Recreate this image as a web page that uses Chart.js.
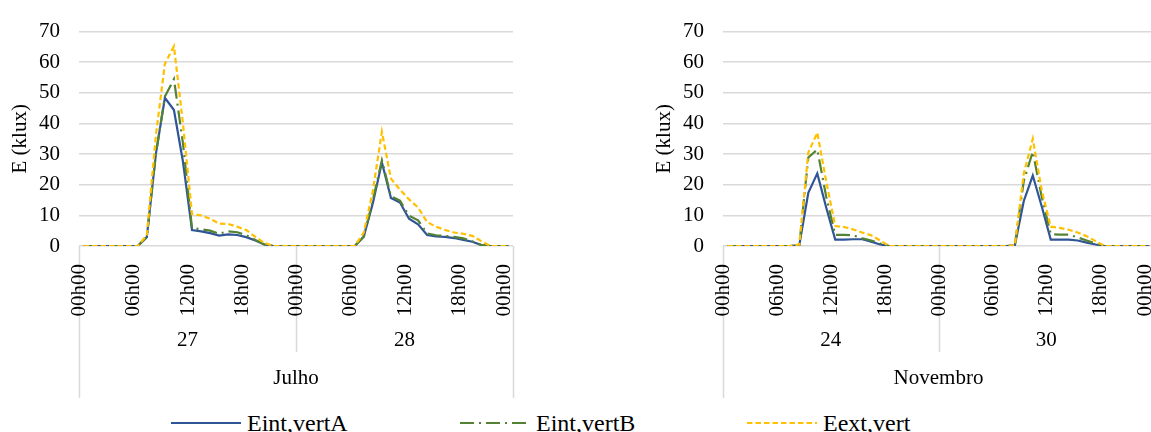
<!DOCTYPE html>
<html lang="pt">
<head>
<meta charset="utf-8">
<title>Iluminância vertical</title>
<script src="https://cdn.jsdelivr.net/npm/chart.js@4.4.1/dist/chart.umd.min.js"></script>
<style>
  html, body { margin: 0; padding: 0; background: #fff; overflow: hidden; }
  #figura { position: relative; width: 1151px; height: 432px; overflow: hidden; font-family: "Liberation Serif", "Times New Roman", serif; }
  #cJulho { position: absolute; left: 0; top: 0; }
  #cNovembro { position: absolute; left: 644px; top: 0; }
  .leg { position: absolute; top: 411px; height: 24px; display: flex; align-items: center; font-size: 24px; line-height: 24px; color: #000; white-space: nowrap; }
  .leg svg { margin-right: 6px; }
</style>
</head>
<body>
<div id="figura">
  <canvas id="cJulho" width="560" height="405"></canvas>
  <canvas id="cNovembro" width="540" height="405"></canvas>
  <div class="leg" style="left:171px"><svg width="70" height="24"><line x1="0" y1="12" x2="70" y2="12" stroke="#2f5597" stroke-width="2.2"/></svg>Eint,vertA</div>
  <div class="leg" style="left:460px"><svg width="70" height="24"><line x1="0" y1="12" x2="70" y2="12" stroke="#548235" stroke-width="2.2" stroke-dasharray="14 5 2 5"/></svg>Eint,vertB</div>
  <div class="leg" style="left:747px"><svg width="70" height="24"><line x1="0" y1="12" x2="70" y2="12" stroke="#ffc000" stroke-width="2.2" stroke-dasharray="5.5 3"/></svg>Eext,vert</div>
</div>
<script>
// Horas de cada dia (categorias do eixo horizontal)
const horas = ['00h00','01h00','02h00','03h00','04h00','05h00','06h00','07h00',
               '08h00','09h00','10h00','11h00','12h00','13h00','14h00','15h00',
               '16h00','17h00','18h00','19h00','20h00','21h00','22h00','23h00'];

// Rótulos visíveis do eixo das horas e a categoria onde cada um fica
const rotulosHora = ['00h00','06h00','12h00','18h00','00h00','06h00','12h00','18h00','00h00'];
const posRotulos  = [0, 6, 12, 18, 24, 30, 36, 42, 47];

// Dias e meses
const diasJulho = ['27', '28'];
const diasNovembro = ['24', '30'];
const mesJulho = 'Julho';
const mesNovembro = 'Novembro';

// Iluminância (klux), julho, dias 27 e 28
const julhoIntA = [0,0,0,0,0,0,0,2.9,30,48.4,44.4,27.5,5.2,4.8,4.2,3.4,3.8,3.6,2.9,1.8,0.5,0,0,0,
                   0,0,0,0,0,0,0,3.1,14,27.3,15.7,14.2,8.9,7.1,3.6,3.1,3.0,2.6,2.0,1.4,0.3,0,0,0];
const julhoIntB = [0,0,0,0,0,0,0,3.0,30,48.8,54.5,33.5,5.8,5.5,5.0,4.0,4.8,4.5,3.5,2.0,0.5,0,0,0,
                   0,0,0,0,0,0,0,3.0,15,28.0,16.3,14.8,9.9,8.4,4.1,3.5,3.3,3.0,2.5,1.5,0.3,0,0,0];
const julhoExt  = [0,0,0,0,0,0,0,3.6,36,59.5,65.2,40,10.4,10.0,8.9,7.3,7.2,6.3,5.2,3.0,1.0,0,0,0,
                   0,0,0,0,0,0,0,4.4,18,37.3,22,18.4,15.2,12.6,7.8,6.3,5.2,4.4,4.0,3.3,1.6,0,0,0];

// Iluminância (klux), novembro, dias 24 e 30
const novIntA = [0,0,0,0,0,0,0,0,0.3,17.4,23.7,12.5,2.1,2.1,2.2,2.2,1.4,0.5,0,0,0,0,0,0,
                 0,0,0,0,0,0,0,0,0.2,14.7,23.0,12.9,2.1,2.1,2.1,1.8,1.1,0.5,0,0,0,0,0,0];
const novIntB = [0,0,0,0,0,0,0,0,0.3,28.9,31.5,16.0,3.6,3.6,3.5,2.5,1.8,0.8,0,0,0,0,0,0,
                 0,0,0,0,0,0,0,0,0.2,21.3,30.8,16.0,3.9,3.7,3.7,2.8,1.8,0.8,0,0,0,0,0,0];
const novExt  = [0,0,0,0,0,0,0,0,0.5,30.5,37.0,21.0,6.5,6.2,5.4,4.4,3.5,1.8,0,0,0,0,0,0,
                 0,0,0,0,0,0,0,0,0.2,23.7,35.0,18.1,6.3,5.9,5.3,4.4,3.2,1.6,0,0,0,0,0,0];

const AZUL = '#2f5597', VERDE = '#548235', AMARELO = '#ffc000', GRELHA = '#d9d9d9';
const FONTE = { family: '"Liberation Serif", "Times New Roman", serif', size: 21 };

Chart.defaults.font.family = FONTE.family;

// Limites (em píxeis) de cada dia no eixo das horas
function limitesDias(chart, nDias) {
  const x = chart.scales.x;
  const porDia = chart.data.labels.length / nDias;
  const limites = [x.left];
  for (let d = 1; d < nDias; d++) {
    limites.push((x.getPixelForValue(d * porDia - 1) + x.getPixelForValue(d * porDia)) / 2);
  }
  limites.push(x.right);
  return limites;
}

// Eixo agrupado: linhas separadoras dos dias (por baixo dos rótulos) e rótulos de dia e mês
const eixoAgrupado = {
  id: 'eixoAgrupado',
  beforeDraw(chart, args, opts) {
    const { ctx } = chart;
    const topo = chart.scales.x.top;
    const limites = limitesDias(chart, opts.dias.length);
    ctx.save();
    ctx.strokeStyle = GRELHA;
    ctx.lineWidth = 1.5;
    ctx.beginPath();
    limites.forEach((px, k) => {
      const fundo = (k === 0 || k === limites.length - 1) ? opts.fundoMes : opts.fundoDia;
      ctx.moveTo(Math.round(px) + 0.5, topo);
      ctx.lineTo(Math.round(px) + 0.5, fundo);
    });
    ctx.stroke();
    ctx.restore();
  },
  afterDraw(chart, args, opts) {
    const { ctx } = chart;
    const x = chart.scales.x;
    const limites = limitesDias(chart, opts.dias.length);
    ctx.save();
    ctx.fillStyle = '#000';
    ctx.font = `${FONTE.size}px ${FONTE.family}`;
    ctx.textAlign = 'center';
    ctx.textBaseline = 'middle';
    opts.dias.forEach((d, k) => ctx.fillText(d, (limites[k] + limites[k + 1]) / 2, opts.yDia));
    ctx.fillText(opts.mes, (x.left + x.right) / 2, opts.yMes);
    ctx.restore();
  }
};

function painel(id, dias, mes, serieA, serieB, serieExt, margemDireita) {
  return new Chart(document.getElementById(id), {
    type: 'line',
    data: {
      labels: dias.flatMap(() => horas),
      datasets: [
        { label: 'Eint,vertA', data: serieA, borderColor: AZUL, borderWidth: 2.2, order: 2 },
        { label: 'Eint,vertB', data: serieB, borderColor: VERDE, borderWidth: 2.2, borderDash: [14, 5, 2, 5], order: 1 },
        { label: 'Eext,vert', data: serieExt, borderColor: AMARELO, borderWidth: 2.2, borderDash: [5.5, 3], order: 0 }
      ]
    },
    options: {
      responsive: false,
      animation: false,
      elements: { point: { radius: 0 }, line: { tension: 0, fill: false } },
      layout: { padding: { top: 25, right: margemDireita, left: 0, bottom: 0 } },
      plugins: {
        legend: { display: false },
        tooltip: { enabled: false },
        eixoAgrupado: { dias, mes, yDia: 340, yMes: 378, fundoDia: 352, fundoMes: 398 }
      },
      scales: {
        x: {
          type: 'category',
          offset: true,
          grid: { display: false, drawTicks: false },
          border: { display: false },
          ticks: {
            autoSkip: false, minRotation: 90, maxRotation: 90, padding: 18, labelOffset: -4,
            color: '#000', font: FONTE,
            callback: (v, i) => { const k = posRotulos.indexOf(i); return k >= 0 ? rotulosHora[k] : ''; }
          },
          afterFit(s) { s.height = 159; s.paddingLeft = 0; s.paddingRight = 0; }
        },
        y: {
          min: 0, max: 70,
          ticks: { stepSize: 10, padding: 19, color: '#000', font: FONTE },
          grid: { color: GRELHA, lineWidth: 1.5, drawTicks: false },
          border: { display: false },
          title: { display: true, text: 'E (klux)', color: '#000', font: FONTE, padding: { top: 8, bottom: 0 } },
          afterFit(s) { s.width = 79; }
        }
      }
    },
    plugins: [eixoAgrupado]
  });
}

painel('cJulho', diasJulho, mesJulho, julhoIntA, julhoIntB, julhoExt, 47);
painel('cNovembro', diasNovembro, mesNovembro, novIntA, novIntB, novExt, 30);
</script>
</body>
</html>
